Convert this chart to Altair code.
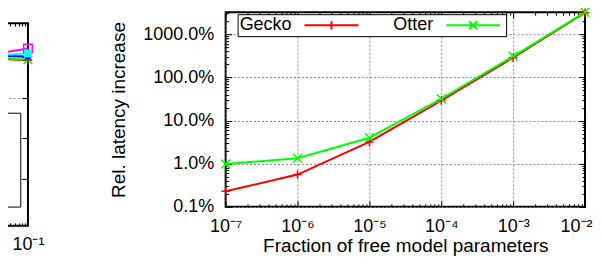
import math
import altair as alt
import pandas as pd

FONT = "Liberation Sans"

# ---------------- main chart data ----------------
fraction = [1e-7, 1e-6, 1e-5, 1e-4, 1e-3, 1e-2]
gecko = [0.23, 0.56, 3.2, 29.0, 285.0, 3150.0]
otter = [0.98, 1.34, 4.0, 32.0, 308.0, 3240.0]
series_names = ["Gecko", "Otter"]
series_colors = ["#ff0000", "#00ff00"]
x_ticks = [1e-7, 1e-6, 1e-5, 1e-4, 1e-3, 1e-2]
x_tick_labels = ["10⁻⁷", "10⁻⁶", "10⁻⁵", "10⁻⁴", "10⁻³", "10⁻²"]
y_ticks = [0.1, 1, 10, 100, 1000]
y_tick_labels = ["0.1%", "1.0%", "10.0%", "100.0%", "1000.0%"]
y_domain = [0.1, 3240]
x_title = "Fraction of free model parameters"
y_title = "Rel. latency increase"

# ---------------- neighbouring (cut-off) chart on the left ----------------
nb_fraction = [1e-2, 1e-1]
nb_series = ["a", "b", "c", "d", "e"]
nb_colors = ["#ff0000", "#00ff00", "#0000ff", "#ff00ff", "#00ffff"]
nb_values = [[1000, 830], [1050, 860], [1090, 1030], [945, 1620], [1020, 1220]]
nb_x_ticks = [1e-1]
nb_x_tick_labels = ["10⁻¹"]
nb_y_ticks = [1, 10, 100, 1000]
nb_x_domain = [1e-2, 1e-1]
nb_y_domain = [0.0715, 6750]

PLUS = "M-1,0H1M0,-1V1"
CROSS = "M-1,-1L1,1M-1,1L1,-1"
STAR = "M-1,0H1M0,-1V1M-0.7,-0.7L0.7,0.7M-0.7,0.7L0.7,-0.7"
LEG_G = "M-6.75,0H6.75M0,-1V1"
LEG_O = "M-6.75,0H6.75M-1,-1L1,1M-1,1L1,-1"
NB_LEG = "M-8,0H-2M6,0"


def log_minor(lo, hi):
    out = []
    d = math.floor(math.log10(lo))
    while 10.0 ** d <= hi:
        for k in range(2, 10):
            v = k * 10.0 ** d
            if lo < v < hi:
                out.append(v)
        d += 1
    return out


def label_expr(values, labels):
    parts = [f"abs(log(datum.value) - ({math.log(v):.6f})) < 0.01 ? '{t}'"
             for v, t in zip(values, labels)]
    return " : ".join(parts) + " : ''"


def tick_axis(values, orient, offset, size):
    return alt.Axis(values=values, orient=orient, offset=offset, ticks=True,
                    tickSize=size, tickColor="black", tickWidth=1, labels=False,
                    domain=False, grid=False, title=None, minExtent=0)


GRID = dict(grid=True, gridDash=[2, 2], gridColor="#888888", gridWidth=1)
FRAME = alt.ViewBackground(stroke="black", strokeWidth=2)
LABEL_STYLE = dict(labelFontSize=18, labelColor="black", labelOverlap=False, minExtent=0,
                   ticks=False, domain=False)

# ================= main panel =================
W, H = 360, 195
df = pd.DataFrame({
    "frac": fraction * 2,
    "value": gecko + otter,
    "series": [series_names[0]] * len(fraction) + [series_names[1]] * len(fraction),
})
xs = alt.Scale(type="log", domain=[x_ticks[0], x_ticks[-1]])
ys = alt.Scale(type="log", domain=y_domain)
cs = alt.Scale(domain=series_names, range=series_colors)
x_minor = log_minor(x_ticks[0], x_ticks[-1])
y_minor = log_minor(y_domain[0], y_domain[1])


def X(axis):
    return alt.X("frac:Q", scale=xs, axis=axis)


def Y(axis):
    return alt.Y("value:Q", scale=ys, axis=axis)


# all x labels but the last one (centred on their ticks), with grid and title
x_lab_axis = alt.Axis(values=x_ticks[:-1], labelExpr=label_expr(x_ticks, x_tick_labels),
                      labelPadding=11, labelFlush=False,
                      title=x_title, titleFontSize=19, titleFontWeight="normal",
                      titleColor="black", titlePadding=1, **LABEL_STYLE, **GRID)
# the last x label sits at the right edge of the window, kept whole
x_last_axis = alt.Axis(values=x_ticks[-1:], labelExpr=label_expr(x_ticks, x_tick_labels),
                       orient="bottom", labelPadding=11, labelFlush=True,
                       labelFlushOffset=7, grid=False, title=None, **LABEL_STYLE)
y_lab_axis = alt.Axis(values=y_ticks, labelExpr=label_expr(y_ticks, y_tick_labels),
                      labelPadding=12, labelFlush=False,
                      title=y_title, titleFontSize=19, titleFontWeight="normal",
                      titleColor="black", titlePadding=14, **LABEL_STYLE, **GRID)

color_plain = alt.Color("series:N", scale=cs)

lines = alt.Chart(df).mark_line(strokeWidth=2).encode(
    X(x_lab_axis), Y(y_lab_axis), color=color_plain)

pts_g = alt.Chart(df).transform_filter(alt.datum.series == series_names[0]).mark_point(
    shape=PLUS, size=72, filled=False, strokeWidth=1.5, opacity=1).encode(
    X(tick_axis(x_ticks, "top", -H, 6)), Y(tick_axis(y_ticks, "right", -W, 6)),
    color=color_plain)

pts_o = alt.Chart(df).transform_filter(alt.datum.series == series_names[1]).mark_point(
    shape=CROSS, size=81, filled=False, strokeWidth=1.5, opacity=1).encode(
    X(tick_axis(x_minor, "top", -H, 3)), Y(tick_axis(y_minor, "right", -W, 3)),
    color=color_plain)

leg_params = dict(orient="none", legendX=12, legendY=2, direction="horizontal",
                  title=None, labelFontSize=18, labelColor="black", labelFont=FONT,
                  labelAlign="right", labelOffset={"expr": "-49"}, symbolOffset=83,
                  symbolSize=64, symbolStrokeWidth=2, strokeColor="black",
                  fillColor="white", padding=2, columnPadding=19, symbolOpacity=1)

leg = alt.Chart(df).transform_filter("false").mark_point(filled=False, opacity=1).encode(
    X(tick_axis(x_ticks, "bottom", -H, 6)), Y(tick_axis(y_ticks, "left", -W, 6)),
    color=alt.Color("series:N", scale=cs, legend=alt.Legend(**leg_params)),
    shape=alt.Shape("series:N", scale=alt.Scale(domain=series_names, range=[LEG_G, LEG_O]),
                    legend=alt.Legend(**leg_params)))

minor_top = alt.Chart(df).transform_filter("false").mark_point().encode(
    X(tick_axis(x_minor, "bottom", -H, 3)), Y(tick_axis(y_minor, "left", -W, 3)))

last_label = alt.Chart(df).transform_filter("false").mark_point().encode(
    X(x_last_axis), Y(axis=None))

main = alt.layer(lines, pts_g, pts_o, leg, minor_top, last_label).properties(
    width=W, height=H, view=FRAME).resolve_axis(x="independent", y="independent")

# ================= cut-off neighbour panel =================
LW, LH = 59, 203
rows = []
for s, vals in zip(nb_series, nb_values):
    for f, v in zip(nb_fraction, vals):
        rows.append({"frac": f, "value": v, "series": s})
ndf = pd.DataFrame(rows)
nxs = alt.Scale(type="log", domain=nb_x_domain)
nys = alt.Scale(type="log", domain=nb_y_domain)
ncs = alt.Scale(domain=nb_series, range=nb_colors)
nb_x_minor = log_minor(nb_x_domain[0], nb_x_domain[1])


def NX(axis):
    return alt.X("frac:Q", scale=nxs, axis=axis)


def NY(axis):
    return alt.Y("value:Q", scale=nys, axis=axis)


nb_x_lab_axis = alt.Axis(values=nb_x_ticks, labelExpr=label_expr(nb_x_ticks, nb_x_tick_labels),
                         grid=False, labelPadding=10, labelFlush=False, title=None,
                         **LABEL_STYLE)
nb_y_grid_axis = alt.Axis(values=nb_y_ticks, labels=False, ticks=False, domain=False,
                          title=None, minExtent=0, **GRID)
ncolor_plain = alt.Color("series:N", scale=ncs)

n_lines = alt.Chart(ndf).mark_line(strokeWidth=2).encode(
    NX(nb_x_lab_axis), NY(nb_y_grid_axis), color=ncolor_plain)

n_pts = alt.Chart(ndf).transform_filter(alt.datum.series != nb_series[4]).mark_point(
    size=72, filled=False, strokeWidth=1.5, opacity=1).encode(
    NX(tick_axis(nb_x_minor, "top", -LH, 3)), NY(tick_axis(nb_y_ticks, "left", -LW, 6)),
    color=ncolor_plain,
    shape=alt.Shape("series:N", scale=alt.Scale(domain=nb_series[:4],
                                                range=[PLUS, CROSS, STAR, "square"]),
                    legend=None))

n_cyan = alt.Chart(ndf).transform_filter(alt.datum.series == nb_series[4]).mark_point(
    shape="square", size=64, filled=True, opacity=1).encode(
    NX(tick_axis(nb_x_minor, "bottom", -LH, 3)), NY(axis=None), color=ncolor_plain)

n_leg = alt.Chart(ndf).transform_filter("false").mark_point(
    shape=NB_LEG, filled=False, opacity=1).encode(
    NX(axis=None), NY(axis=None),
    color=alt.Color("series:N", scale=ncs, legend=alt.Legend(
        orient="none", legendX=23.3, legendY=100.7, direction="vertical", title=None,
        labelExpr="''", labelFontSize=16, labelOffset=0, symbolSize=16,
        symbolType=NB_LEG, symbolFillColor="transparent",
        symbolStrokeWidth=2, strokeColor="black", fillColor="white", padding=2,
        rowPadding=2.5, symbolOpacity=1)))

neighbour = alt.layer(n_lines, n_pts, n_cyan, n_leg).properties(
    width=LW, height=LH, view=FRAME).resolve_axis(x="independent", y="independent")

spacer = alt.Chart(pd.DataFrame({"a": [1.0]})).transform_filter("false").mark_point().encode(
    x=alt.X("a:Q", axis=None), y=alt.Y("a:Q", axis=None)).properties(
    width=LW, height=1, view=alt.ViewBackground(stroke="transparent"))

left_col = alt.vconcat(spacer, neighbour, spacing=10, bounds="flush")

chart = alt.hconcat(left_col, main, spacing=257, bounds="flush").resolve_scale(
    color="independent", shape="independent"
).properties(
    padding={"left": -48, "top": -5, "right": 0, "bottom": 0},
    background="white",
).configure(font=FONT).configure_view(stroke="black", strokeWidth=2).configure_axis(
    labelFont=FONT, titleFont=FONT)

chart.save("out.html", embed_options={"renderer": "svg", "actions": False})
